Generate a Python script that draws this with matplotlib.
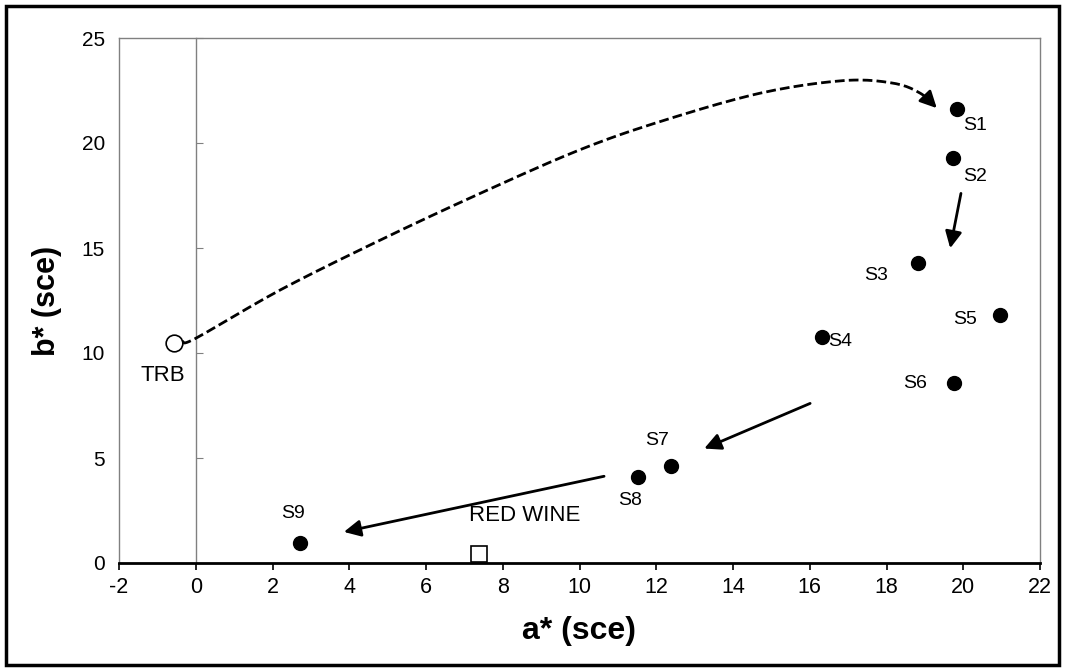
import numpy as np
import matplotlib
matplotlib.use("Agg")
import matplotlib.pyplot as plt
from matplotlib.patches import Rectangle
from matplotlib import font_manager

# ---------------- data ----------------
sample_names = ["S1", "S2", "S3", "S4", "S5", "S6", "S7", "S8", "S9"]
sample_a = [19.85, 19.73, 18.82, 16.32, 20.97, 19.77, 12.38, 11.53, 2.72]
sample_b = [21.60, 19.28, 14.30, 10.77, 11.80, 8.55, 4.61, 4.10, 0.94]

trb_a, trb_b = [-0.57], [10.46]
wine_a, wine_b = [7.38], [0.45]

x_ticks = [-2, 0, 2, 4, 6, 8, 10, 12, 14, 16, 18, 20, 22]
y_ticks = [0, 5, 10, 15, 20, 25]

# dashed curved path (TRB -> S1)
curve_x = [-0.35, 0.0, 2.2, 4.8, 7.41, 10.0, 12.1, 14.7, 16.87, 18.17, 18.88, 19.31]
curve_y = [10.55, 10.7, 13.0, 15.37, 17.6, 19.67, 21.02, 22.37, 22.97, 22.85, 22.37, 21.66]

# straight arrows
arrows_start_a = [19.94, 16.01, 10.64]
arrows_start_b = [17.60, 7.60, 4.13]
arrows_end_a = [19.66, 13.25, 3.86]
arrows_end_b = [14.99, 5.45, 1.48]

# label offsets (points)
label_offsets = [(12.7, -11.5), (15.8, -13.5), (-30, -8.9), (13, -3.6), (-25.6, -2.9),
                 (-28.6, 0), (-9.9, 18.7), (-6, -16.8), (-5, 21.6)]

# ---------------- fonts ----------------
avail = {f.name for f in font_manager.fontManager.ttflist}
base_font = "Liberation Sans" if "Liberation Sans" in avail else "DejaVu Sans"
plt.rcParams["font.family"] = [base_font, "DejaVu Sans"]
plt.rcParams["axes.unicode_minus"] = False

fig = plt.figure(figsize=(10.65, 6.72), dpi=100)
ax = fig.add_axes([119 / 1065, 1 - 563 / 672, (1040 - 119) / 1065, (563 - 38) / 672])

ax.set_xlim(-2, 22)
ax.set_ylim(0, 25)

gray = "#808080"
for s in ["left", "top", "right"]:
    ax.spines[s].set_color(gray)
    ax.spines[s].set_linewidth(1.0)
ax.spines["bottom"].set_color("black")
ax.spines["bottom"].set_linewidth(2.0)

ax.set_xticks(x_ticks)
ax.set_yticks(y_ticks)
ax.tick_params(axis="x", direction="out", length=5, width=1.2, color="black", pad=5,
               labelsize=15.5)
ax.tick_params(axis="y", length=0, pad=10, labelsize=15)

# vertical axis at x = 0 with inward ticks
sec = ax.secondary_yaxis((0 - (-2)) / 24)
sec.set_yticks(y_ticks)
sec.tick_params(axis="y", direction="in", length=5, color=gray, labelleft=False)
sec.spines["left"].set_color(gray)
sec.spines["left"].set_linewidth(1.0)

ax.set_xlabel("a* (sce)", fontsize=23, fontweight="bold", labelpad=13)
ax.set_ylabel("b* (sce)", fontsize=22, fontweight="bold", labelpad=14)

# ---------------- dashed curve ----------------
# Catmull-Rom smoothing of the read path (geometry of the drawn arrow)
px = np.array(curve_x)
py = np.array(curve_y)
sx, sy = [], []
n = len(px)
for i in range(n - 1):
    p0 = (px[max(i - 1, 0)], py[max(i - 1, 0)])
    p1 = (px[i], py[i])
    p2 = (px[i + 1], py[i + 1])
    p3 = (px[min(i + 2, n - 1)], py[min(i + 2, n - 1)])
    for t in np.linspace(0, 1, 12, endpoint=False):
        t2, t3 = t * t, t * t * t
        sx.append(0.5 * (2 * p1[0] + (-p0[0] + p2[0]) * t + (2 * p0[0] - 5 * p1[0] + 4 * p2[0] - p3[0]) * t2
                         + (-p0[0] + 3 * p1[0] - 3 * p2[0] + p3[0]) * t3))
        sy.append(0.5 * (2 * p1[1] + (-p0[1] + p2[1]) * t + (2 * p0[1] - 5 * p1[1] + 4 * p2[1] - p3[1]) * t2
                         + (-p0[1] + 3 * p1[1] - 3 * p2[1] + p3[1]) * t3))
sx.append(px[-1])
sy.append(py[-1])
ax.plot(sx[:-4], sy[:-4], color="black", lw=2.0, linestyle=(0, (3.5, 1.5)), zorder=3)
ax.annotate("", xy=(sx[-1], sy[-1]), xytext=(sx[-8], sy[-8]),
            arrowprops=dict(arrowstyle="-|>", color="black", lw=2.0,
                            mutation_scale=25, shrinkA=0, shrinkB=0), zorder=3)

# ---------------- straight arrows ----------------
for a0, b0, a1, b1 in zip(arrows_start_a, arrows_start_b, arrows_end_a, arrows_end_b):
    ax.annotate("", xy=(a1, b1), xytext=(a0, b0),
                arrowprops=dict(arrowstyle="-|>", color="black", lw=2.0,
                                mutation_scale=25, shrinkA=0, shrinkB=0), zorder=3)

# ---------------- markers ----------------
ax.plot(sample_a, sample_b, "o", color="black", markersize=10, zorder=4, clip_on=False)
ax.plot(trb_a, trb_b, "o", mfc="white", mec="black", mew=1.2, markersize=12, zorder=4)
ax.plot(wine_a, wine_b, "s", mfc="white", mec="black", mew=1.2, markersize=12, zorder=4)

for name, a, b, off in zip(sample_names, sample_a, sample_b, label_offsets):
    ax.annotate(name, xy=(a, b), xytext=off, textcoords="offset points",
                ha="center", va="center", fontsize=14)
ax.annotate("TRB", xy=(trb_a[0], trb_b[0]), xytext=(-8, -22.8), textcoords="offset points",
            ha="center", va="center", fontsize=16)
ax.annotate("RED WINE", xy=(wine_a[0], wine_b[0]), xytext=(33, 27.6), textcoords="offset points",
            ha="center", va="center", fontsize=16)

# outer border
fig.patches.append(Rectangle((6 / 1065, 1 - 665 / 672), (1059 - 6) / 1065, (665 - 6) / 672,
                             transform=fig.transFigure, fill=False, edgecolor="black",
                             linewidth=2.5, zorder=10))

fig.savefig("out.png", dpi=100)
